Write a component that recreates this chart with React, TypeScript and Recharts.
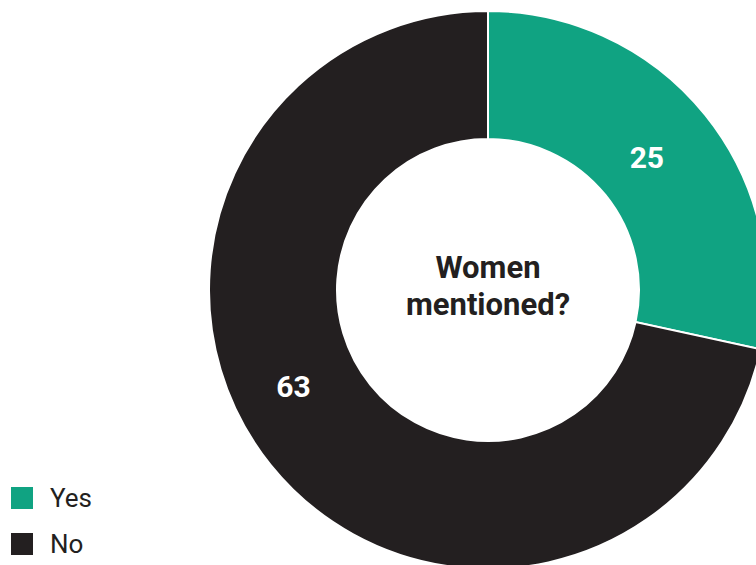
import { Cell, Pie, PieChart } from 'recharts';

const categories = ['Yes', 'No'];
const counts = [25, 63];
const colors = ['#10a382', '#231f20'];
const centerLines = ['Women', 'mentioned?'];

const data = categories.map((name, i) => ({ name, value: counts[i] }));

const RAD = Math.PI / 180;
const FONT = 'Roboto, "Noto Sans", sans-serif';
const CX = 488;
const CY = 290;

// small per-label nudges so the numbers sit where the original puts them
const labelAngleShift = [1, -12.6];
const labelRadiusShift = [-8, 2];

function sliceLabel(props: any) {
  const { cx, cy, midAngle, innerRadius, outerRadius, index, value } = props;
  const r = (innerRadius + outerRadius) / 2 + (labelRadiusShift[index] || 0);
  const a = (midAngle + (labelAngleShift[index] || 0)) * RAD;
  const x = cx + r * Math.cos(a);
  const y = cy - r * Math.sin(a);
  return (
    <text x={x} y={y} fill="#fff" textAnchor="middle" dominantBaseline="central" fontFamily={FONT} fontWeight={700} fontSize={30}>
      {value}
    </text>
  );
}

function LegendBox() {
  return (
    <div style={{ position: 'absolute', left: 11, top: 475, fontFamily: FONT }}>
      {categories.map((c, i) => (
        <div key={c} style={{ display: 'flex', alignItems: 'center', height: 46 }}>
          <span style={{ width: 22, height: 22, background: colors[i], display: 'inline-block' }} />
          <span style={{ marginLeft: 17, fontSize: 26, color: '#231f20' }}>{c}</span>
        </div>
      ))}
    </div>
  );
}

export default function App() {
  return (
    <div style={{ position: 'fixed', left: 0, top: 0, width: 756, height: 565, background: '#fff', overflow: 'hidden' }}>
      <PieChart width={756} height={565} margin={{ top: 0, right: 0, bottom: 0, left: 0 }}>
        <Pie
          data={data}
          dataKey="value"
          nameKey="name"
          cx={CX}
          cy={CY}
          innerRadius={151}
          outerRadius={279}
          startAngle={90}
          endAngle={-270}
          stroke="#fff"
          strokeWidth={2}
          label={sliceLabel}
          labelLine={false}
          isAnimationActive={false}
        >
          {data.map((d, i) => (
            <Cell key={d.name} fill={colors[i]} />
          ))}
        </Pie>
      </PieChart>
      <div
        style={{
          position: 'absolute',
          left: CX - 140,
          top: 249,
          width: 280,
          textAlign: 'center',
          fontFamily: FONT,
          fontWeight: 700,
          fontSize: 31,
          lineHeight: '37px',
          color: '#231f20',
        }}
      >
        {centerLines.map((l) => (
          <div key={l}>{l}</div>
        ))}
      </div>
      <LegendBox />
    </div>
  );
}
